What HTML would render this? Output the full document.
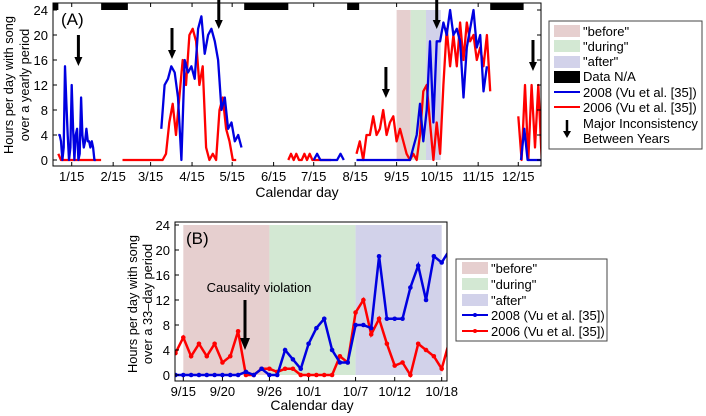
<!DOCTYPE html>
<html><head><meta charset="utf-8"><style>
body{margin:0;background:#fff}
svg{display:block;font-family:"Liberation Sans",sans-serif}
</style></head><body>
<svg id="chart" width="706" height="416" viewBox="0 0 706 416" xmlns="http://www.w3.org/2000/svg">
<defs>
<clipPath id="clipA"><rect x="53" y="3" width="488" height="163"/></clipPath>
<clipPath id="clipB"><rect x="175" y="222" width="272" height="159"/></clipPath>
</defs>
<g id="panelA"></g>
<g id="panelB"></g>
</svg>
<script>
// ---------- Panel A data ----------
const aYTicks = [0,4,8,12,16,20,24];
const aXTickLabels = ["1/15","2/15","3/15","4/15","5/15","6/15","7/15","8/15","9/15","10/15","11/15","12/15"];
const aXTickDays = [15,46,74,105,135,166,196,227,258,288,319,349];
const blueStarts = [5, 82, 196, 228, 351];
const blueSteps = [1, 2.5, 2.5, 2.5, 2.5];
const blueSeg0 = [4,4,3,0,2,15,9,4,0,2,12,5,0,4,5,0,1,10,4,2,3,5,3,3,2,3,2,0,0];
const blueSeg1 = [5,12,13,15,14,10,0,16,14,15,13,21,23,17,20,21,19,16,8,10,5,6,3,4,2];
const blueSeg2 = [0,1,0,0,0,0,0,0,1,0];
const blueSeg3 = [0,0,0,0,0,0,0,0,0,0,0,0,0,0,0,0,0,2,4,9,3,8,19,6,19,19,22,20,24,20,21,19,10,18,21,24,18,20,11,15];
const blueSeg4 = [0,5,0,0,0,0,0];
const redStarts = [5, 53, 177, 228, 349];
const redSteps = [2, 2.5, 2, 2.5, 2.5];
const redSeg0 = [1,0,0,0,0,0,0,0,0,0,0,0,0,0,0,0,0];
const redSeg1 = [0,0,0,0,0,0,0,0,0,0,0,0,0,1,6,9,4,10,16,12,20,21,19,12,15,2,0,1,0,8,10,5,3,0,0];
const redSeg2 = [0,1,0,1,0,0,1,0,1,0,0,0,0,0,0,0,0];
const redSeg3 = [1,3,0,4,4,7,4,5,8,4,6,7,3,5,3,1,0,1,0,4,11,12,6,0,6,1,12,21,15,20,15,22,16,22,19,20,16,18,15,20,11];
const redSeg4 = [7,0,12,0,12,2,12,0,0,11];
const naStarts = [1, 37, 144, 221, 328];
const naEnds = [5, 57, 177, 230, 353];
const shadeStarts = [258, 268.5, 280];
const shadeEnds = [268.5, 280, 291];
const arrowDaysA = [20, 90, 125, 250, 288, 360];
const arrowTopsA = [35, 28, -2, 67, -2, 40];
// ---------- Panel B data ----------
const bYTicks = [0,4,8,12,16,20,24];
const bXTickLabels = ["9/15","9/20","9/26","10/1","10/7","10/12","10/18"];
const bXTickIdx = [1,6,12,17,23,28,34];
const bRed = [3.5,6,3,5,3,5,2,3,7,0,0,1,1,0.5,1,1,0,0,0,0,0,3,2,10,12,6.5,9,5,1.5,2,0,5,4,3,1,5.5];
const bBlue = [0,0,0,0,0,0,0,0,0,0.5,0,1,0,0,4,2.5,1,5,7.5,9,4,2,2,8,8,7.5,19,9,9,9,14,17.5,12,19,18,20];
const bShadeStart = [1,12,23];
const bShadeEnd = [12,23,34];

const NS="http://www.w3.org/2000/svg";
function mk(tag, attrs, parent){const e=document.createElementNS(NS,tag);for(const k in attrs)e.setAttribute(k,attrs[k]);parent.appendChild(e);return e;}
const xA=d=>53+(d-1)*1.337, yA=v=>160-v*6.25;
const xB=i=>183.3+(i-1)*7.83, yB=v=>375-v*6.25;
const shadeCols=["#e6cfcf","#d3e8d3","#d2d2ea"];
const A=document.getElementById('panelA'), B=document.getElementById('panelB');

// Panel A
const gA=mk('g',{'clip-path':'url(#clipA)'},A);
for(let k=0;k<3;k++){const r=mk('rect',{x:xA(shadeStarts[k]),y:yA(24),width:xA(shadeEnds[k])-xA(shadeStarts[k]),height:yA(0)-yA(24),fill:shadeCols[k]},gA);

}
function drawSegs(starts,steps,segs,col,name,g,sw){segs.forEach((s,j)=>{const pts=s.map((v,i)=>xA(starts[j]+i*steps[j]).toFixed(1)+','+yA(v).toFixed(1)).join(' ');
const p=mk('polyline',{points:pts,fill:'none',stroke:col,'stroke-width':sw,'stroke-linejoin':'round'},g);

});}
drawSegs(redStarts,redSteps,[redSeg0,redSeg1,redSeg2,redSeg3,redSeg4],'#f00','series-2006-line',gA,2.3);
drawSegs(blueStarts,blueSteps,[blueSeg0,blueSeg1,blueSeg2,blueSeg3,blueSeg4],'#0000e0','series-2008-line',gA,2.3);
for(let k=0;k<naStarts.length;k++){const r=mk('rect',{x:xA(naStarts[k]),y:3,width:xA(naEnds[k])-xA(naStarts[k]),height:7,fill:'#000'},gA);

}
mk('rect',{x:53,y:3,width:488,height:163,fill:'none',stroke:'#000','stroke-width':1},A);
aYTicks.forEach(v=>{mk('line',{x1:53,x2:57,y1:yA(v),y2:yA(v),stroke:'#000'},A);mk('line',{x1:537,x2:541,y1:yA(v),y2:yA(v),stroke:'#000'},A);
const t=mk('text',{x:48,y:yA(v)+5,'text-anchor':'end','font-size':13},A);t.textContent=v;

});
aXTickDays.forEach((d,i)=>{mk('line',{x1:xA(d),x2:xA(d),y1:166,y2:162,stroke:'#000'},A);mk('line',{x1:xA(d),x2:xA(d),y1:3,y2:7,stroke:'#000'},A);
const t=mk('text',{x:xA(d),y:181,'text-anchor':'middle','font-size':13},A);t.textContent=aXTickLabels[i];

});
arrowDaysA.forEach((d,i)=>{const x=xA(d),t=arrowTopsA[i];const g=mk('g',{},A);


mk('line',{x1:x,x2:x,y1:t,y2:t+24,stroke:'#000','stroke-width':3},g);mk('polygon',{points:`${x-4},${t+22} ${x+4},${t+22} ${x},${t+31}`,fill:'#000'},g);});

// Panel B
for(let k=0;k<3;k++){const r=mk('rect',{x:xB(bShadeStart[k]),y:yB(24),width:xB(bShadeEnd[k])-xB(bShadeStart[k]),height:yB(0)-yB(24),fill:shadeCols[k]},B);

}
const gB=mk('g',{'clip-path':'url(#clipB)'},B);
[[bRed,'#f00','series-2006'],[bBlue,'#0000e0','series-2008']].forEach(([arr,col,nm])=>{
const pl=mk('polyline',{points:arr.map((v,i)=>xB(i).toFixed(1)+','+yB(v).toFixed(1)).join(' '),fill:'none',stroke:col,'stroke-width':2.5},gB);


arr.forEach((v,i)=>{const c=mk('circle',{cx:xB(i),cy:yB(v),r:2.3,fill:col},gB);

});});
mk('rect',{x:175,y:222,width:272,height:159,fill:'none',stroke:'#000'},B);
bYTicks.forEach(v=>{mk('line',{x1:175,x2:179,y1:yB(v),y2:yB(v),stroke:'#000'},B);
const t=mk('text',{x:170,y:yB(v)+5,'text-anchor':'end','font-size':13},B);t.textContent=v;

});
bXTickIdx.forEach((d,i)=>{mk('line',{x1:xB(d),x2:xB(d),y1:381,y2:377,stroke:'#000'},B);
const t=mk('text',{x:xB(d),y:396,'text-anchor':'middle','font-size':13},B);t.textContent=bXTickLabels[i];

});
</script>
<svg style="position:absolute;left:0;top:0" width="706" height="416">
<g font-family="Liberation Sans, sans-serif" fill="#000">
<text x="61" y="25" font-size="17">(A)</text>
<text x="186" y="244" font-size="17">(B)</text>
<text x="297" y="197" font-size="14" text-anchor="middle">Calendar day</text>
<text x="312" y="410" font-size="14" text-anchor="middle">Calendar day</text>
<text transform="translate(13,85) rotate(-90)" font-size="12.8" text-anchor="middle">Hours per day with song</text>
<text transform="translate(29,85) rotate(-90)" font-size="12.8" text-anchor="middle">over a yearly period</text>
<text transform="translate(137,304) rotate(-90)" font-size="12.8" text-anchor="middle">Hours per day with song</text>
<text transform="translate(152,304) rotate(-90)" font-size="12.8" text-anchor="middle">over a 33–day period</text>
<text x="259" y="292" font-size="13" text-anchor="middle">Causality violation</text>
<g><line x1="245" x2="245" y1="300" y2="341" stroke="#000" stroke-width="3"/><polygon points="240,338 250,338 245,350"/></g>
</g>
<g font-family="Liberation Sans, sans-serif" font-size="13">
<rect x="549" y="21" width="153" height="128" fill="#fff" stroke="#444"/>
<rect x="554" y="25" width="26" height="12" fill="#e6cfcf"/><text x="583" y="36">"before"</text>
<rect x="554" y="40" width="26" height="12" fill="#d3e8d3"/><text x="583" y="51">"during"</text>
<rect x="554" y="56" width="26" height="12" fill="#d2d2ea"/><text x="583" y="66">"after"</text>
<rect x="554" y="71" width="26" height="12" fill="#000"/><text x="583" y="81">Data N/A</text>
<line x1="554" x2="580" y1="92" y2="92" stroke="#0000e0" stroke-width="2"/><text x="583" y="97">2008 (Vu et al. [35])</text>
<line x1="554" x2="580" y1="107" y2="107" stroke="#f00" stroke-width="2"/><text x="583" y="112">2006 (Vu et al. [35])</text>
<line x1="567" x2="567" y1="120" y2="133" stroke="#000" stroke-width="2.5"/><polygon points="563,131 571,131 567,138"/>
<text x="583" y="128">Major Inconsistency</text><text x="583" y="143">Between Years</text>
</g>
<g font-family="Liberation Sans, sans-serif" font-size="13">
<rect x="456" y="259" width="151" height="82" fill="#fff" stroke="#444"/>
<rect x="462" y="262" width="26" height="12" fill="#e6cfcf"/><text x="491" y="273">"before"</text>
<rect x="462" y="278" width="26" height="12" fill="#d3e8d3"/><text x="491" y="289">"during"</text>
<rect x="462" y="294" width="26" height="12" fill="#d2d2ea"/><text x="491" y="305">"after"</text>
<line x1="462" x2="488" y1="315" y2="315" stroke="#0000e0" stroke-width="2"/><circle cx="475" cy="315" r="2" fill="#0000e0"/><text x="491" y="320">2008 (Vu et al. [35])</text>
<line x1="462" x2="488" y1="331" y2="331" stroke="#f00" stroke-width="2"/><circle cx="475" cy="331" r="2" fill="#f00"/><text x="491" y="336">2006 (Vu et al. [35])</text>
</g>
</svg>
</body></html>
